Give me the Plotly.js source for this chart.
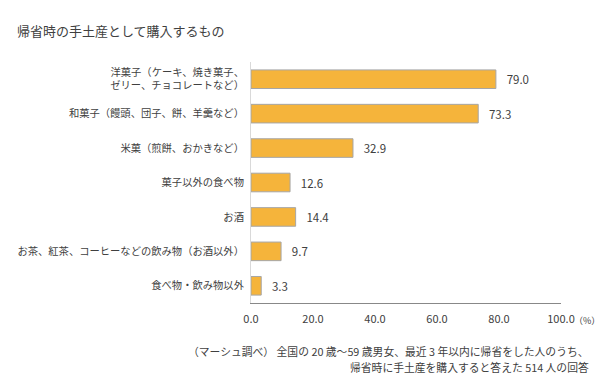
<!DOCTYPE html>
<html><head><meta charset="utf-8">
<script src="https://cdn.plot.ly/plotly-3.0.1.min.js"></script>
<style>html,body{margin:0;padding:0;background:#fff;}#chart{width:600px;height:381px;}</style>
</head><body><div id="chart"></div>
<script>
const categories = [
  "洋菓子（ケーキ、焼き菓子、<br>ゼリー、チョコレートなど）",
  "和菓子（饅頭、団子、餅、羊羹など）",
  "米菓（煎餅、おかきなど）",
  "菓子以外の食べ物",
  "お酒",
  "お茶、紅茶、コーヒーなどの飲み物（お酒以外）",
  "食べ物・飲み物以外"
];
const values = [79.0, 73.3, 32.9, 12.6, 14.4, 9.7, 3.3];
const tickVals = [0, 20, 40, 60, 80, 100];
const tickText = ["0.0", "20.0", "40.0", "60.0", "80.0", "100.0"];
const titleText = "帰省時の手土産として購入するもの";
const unitText = "（%）";
const noteLine1 = "（マーシュ調べ） 全国の 20 歳～59 歳男女、最近 3 年以内に帰省をした人のうち、";
const noteLine2 = "帰省時に手土産を購入すると答えた 514 人の回答";

const font = "Meiryo, 'Noto Sans CJK JP', sans-serif";
const trace = {
  type: "bar", orientation: "h",
  y: categories, x: values,
  width: 0.54,
  marker: {color: "#F5B43B", line: {color: "#A6A6A6", width: 1}},
  texttemplate: "   %{x:.1f}",
  textposition: "outside",
  textfont: {size: 11.5, color: "#404040", family: font},
  cliponaxis: false,
  hoverinfo: "skip"
};
const layout = {
  width: 600, height: 381,
  margin: {l: 251, r: 39, t: 62, b: 78},
  paper_bgcolor: "#fff", plot_bgcolor: "#fff",
  font: {family: font, color: "#404040", size: 11},
  showlegend: false,
  title: {text: titleText, x: 17/600, xref: "container", xanchor: "left",
          y: 1 - 31/381, yref: "container", yanchor: "middle",
          font: {size: 13, color: "#404040", family: font}},
  xaxis: {range: [0, 100], tickvals: tickVals, ticktext: tickText, showgrid: false, zeroline: false,
          showline: true, linecolor: "#888", linewidth: 1, ticks: "outside", ticklen: 6, tickcolor: "rgba(0,0,0,0)",
          tickfont: {size: 11, color: "#404040"}, fixedrange: true},
  yaxis: {autorange: "reversed", showgrid: false, zeroline: false, showline: true, linecolor: "#D9D9D9",
          ticks: "outside", ticklen: 4, tickcolor: "rgba(0,0,0,0)",
          tickfont: {size: 10.3, color: "#404040"}, fixedrange: true},
  annotations: [
    {text: unitText, xref: "paper", yref: "paper", x: 1.0, y: 0, yshift: -17, xshift: 11,
     xanchor: "left", yanchor: "middle", showarrow: false, font: {size: 9, color: "#404040"}},
    {text: noteLine1, xref: "paper", yref: "paper", x: 1, xshift: 30, y: 0, yshift: -48,
     xanchor: "right", yanchor: "middle", showarrow: false,
     font: {size: 10.8, color: "#404040"}},
    {text: noteLine2, xref: "paper", yref: "paper", x: 1, xshift: 30, y: 0, yshift: -64,
     xanchor: "right", yanchor: "middle", showarrow: false,
     font: {size: 10.8, color: "#404040"}}
  ]
};
Plotly.newPlot("chart", [trace], layout, {displayModeBar: false, staticPlot: true});
</script></body></html>
